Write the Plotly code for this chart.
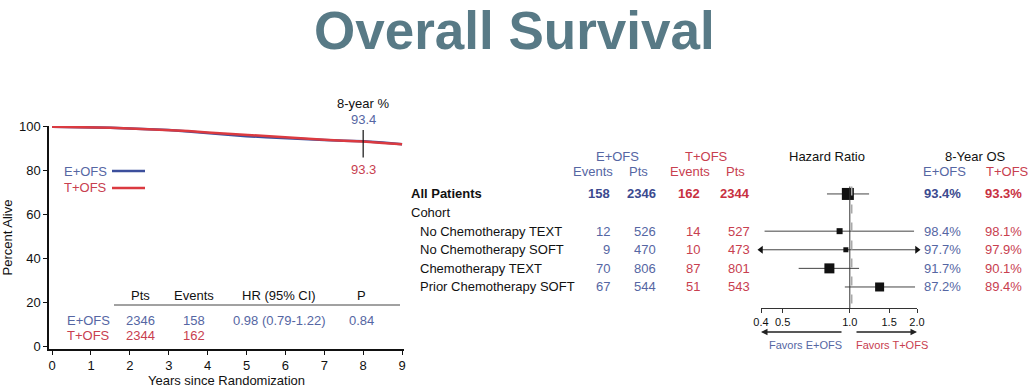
import plotly.graph_objects as go
import math

# ---------------- data ----------------
years = [0, 0.5, 1, 1.5, 2, 2.5, 3, 3.5, 4, 4.5, 5, 5.5, 6, 6.5, 7, 7.5, 8, 8.5, 9]
surv_e = [100, 99.9, 99.7, 99.5, 99.2, 98.9, 98.5, 97.8, 97.0, 96.3, 95.7, 95.2, 94.7, 94.3, 93.9, 93.6, 93.4, 92.8, 92.0]
surv_t = [100, 99.9, 99.7, 99.5, 99.2, 98.9, 98.6, 98.0, 97.4, 96.8, 96.2, 95.6, 95.0, 94.5, 94.0, 93.6, 93.3, 92.6, 92.0]
eight_year = {"E+OFS": "93.4", "T+OFS": "93.3"}

km_header = ["Pts", "Events", "HR (95% CI)", "P"]
km_rows = {"E+OFS": ["2346", "158", "0.98 (0.79-1.22)", "0.84"],
           "T+OFS": ["2344", "162", "", ""]}

groups = ["All Patients", "Cohort", "No Chemotherapy TEXT", "No Chemotherapy SOFT",
          "Chemotherapy TEXT", "Prior Chemotherapy SOFT"]
events_e = ["158", "", "12", "9", "70", "67"]
pts_e = ["2346", "", "526", "470", "806", "544"]
events_t = ["162", "", "14", "10", "87", "51"]
pts_t = ["2344", "", "527", "473", "801", "543"]
hr = [0.98, None, 0.90, 0.96, 0.81, 1.36]
ci_lo = [0.79, None, 0.415, 0.40, 0.59, 0.95]
ci_hi = [1.22, None, 1.94, 2.0, 1.10, 1.96]
os_e = ["93.4%", "", "98.4%", "97.7%", "91.7%", "87.2%"]
os_t = ["93.3%", "", "98.1%", "97.9%", "90.1%", "89.4%"]
hr_ticks = [0.4, 0.5, 1.0, 1.5, 2.0]
hr_ticktext = ["0.4", "0.5", "1.0", "1.5", "2.0"]

# ---------------- styles ----------------
W, H = 1034, 392
BLUE_LINE = "#3c4f9c"
RED_LINE = "#db3a40"
BLUE_TXT = "#5566a3"
BLUE_BOLD = "#3b4a8f"
RED_TXT = "#c8404f"
RED_BOLD = "#c8303f"
TITLE_C = "#587a86"
FONT = "Liberation Sans, Arial, sans-serif"
sq_sizes = [12, 0, 6, 5, 10, 9]


def px(x):
    return x / W


def py(y):
    return 1 - y / H


ann = []
shapes = []


def txt(x, y, text, color="#111111", size=13, xanchor="center", yref="paper"):
    ann.append(dict(x=px(x), y=(py(y) if yref == "paper" else y), xref="paper", yref=yref,
                    text=text, showarrow=False, xanchor=xanchor, yanchor="middle",
                    font=dict(size=size, color=color)))


fig = go.Figure()

# ---------------- KM curves ----------------
fig.add_trace(go.Scatter(x=years, y=surv_e, mode="lines", line=dict(color=BLUE_LINE, width=2.5),
                         xaxis="x", yaxis="y", showlegend=False, cliponaxis=False, hoverinfo="skip"))
fig.add_trace(go.Scatter(x=years, y=surv_t, mode="lines", line=dict(color=RED_LINE, width=2.5),
                         xaxis="x", yaxis="y", showlegend=False, cliponaxis=False, hoverinfo="skip"))

# ---------------- forest plot ----------------
for i, g in enumerate(groups):
    if hr[i] is None:
        continue
    fig.add_trace(go.Scatter(x=[ci_lo[i], ci_hi[i]], y=[i, i], mode="lines",
                             line=dict(color="#444444", width=1), xaxis="x2", yaxis="y2",
                             showlegend=False, hoverinfo="skip", cliponaxis=False))
    fig.add_trace(go.Scatter(x=[hr[i]], y=[i], mode="markers",
                             marker=dict(symbol="square", size=sq_sizes[i], color="#111111"),
                             xaxis="x2", yaxis="y2", showlegend=False, hoverinfo="skip", cliponaxis=False))
idx = groups.index("No Chemotherapy SOFT")
fig.add_trace(go.Scatter(x=[ci_lo[idx], ci_hi[idx]], y=[idx, idx], mode="markers",
                         marker=dict(symbol=["triangle-left", "triangle-right"], size=7, color="#111111"),
                         xaxis="x2", yaxis="y2", showlegend=False, hoverinfo="skip", cliponaxis=False))

# reference lines at HR=1
shapes.append(dict(type="line", xref="x2", yref="y2", x0=1.0, x1=1.0, y0=-0.4, y1=6.13,
                   line=dict(color="#333333", width=1)))
shapes.append(dict(type="line", xref="x2", yref="y2", x0=1.02, x1=1.02, y0=-0.4, y1=6.13,
                   line=dict(color="#aaaaaa", width=1.5, dash="dash")))

# 8-year marker
shapes.append(dict(type="line", xref="x", yref="y", x0=8, x1=8, y0=86, y1=98.5,
                   line=dict(color="#111111", width=1.2)))
txt(363, 103, "8-year %")
txt(363, 119, eight_year["E+OFS"], BLUE_TXT)
txt(363, 169, eight_year["T+OFS"], RED_TXT)

# legend
txt(109, 171, "E+OFS", BLUE_TXT, xanchor="right")
txt(109, 187, "T+OFS", RED_TXT, xanchor="right")
shapes.append(dict(type="line", xref="paper", yref="paper", x0=px(112), x1=px(145), y0=py(171), y1=py(171),
                   line=dict(color=BLUE_LINE, width=2.5)))
shapes.append(dict(type="line", xref="paper", yref="paper", x0=px(112), x1=px(145), y0=py(188), y1=py(188),
                   line=dict(color=RED_LINE, width=2.5)))

# KM table
col_x = [140, 194, 279, 361]
for cx, h in zip(col_x, km_header):
    txt(cx, 295, h)
shapes.append(dict(type="line", xref="paper", yref="paper", x0=px(114), x1=px(400), y0=py(305), y1=py(305),
                   line=dict(color="#444444", width=1)))
for name, yy, c in [("E+OFS", 320, BLUE_TXT), ("T+OFS", 335, RED_TXT)]:
    txt(88, yy, name, c)
    for cx, v in zip(col_x, km_rows[name]):
        if v:
            txt(cx, yy, v, c)

# forest table headers
hdr = [(617, 156, "E+OFS", BLUE_TXT), (593, 171, "Events", BLUE_TXT), (638, 171, "Pts", BLUE_TXT),
       (706, 156, "T+OFS", RED_TXT), (690, 171, "Events", RED_TXT), (735, 171, "Pts", RED_TXT),
       (827, 156, "Hazard Ratio", "#111111"), (975, 156, "8-Year OS", "#111111"),
       (944, 171, "E+OFS", BLUE_TXT), (1007, 171, "T+OFS", RED_TXT)]
for x, y, t, c in hdr:
    txt(x, y, t, c)

# forest table rows
for i, g in enumerate(groups):
    bold = i == 0
    lx = 409 if i <= 1 else 418
    txt(lx, i, f"<b>{g}</b>" if bold else g, xanchor="left", yref="y2")
    cols = [(612, events_e[i], BLUE_BOLD if bold else BLUE_TXT), (658, pts_e[i], BLUE_BOLD if bold else BLUE_TXT),
            (702, events_t[i], RED_BOLD if bold else RED_TXT), (752, pts_t[i], RED_BOLD if bold else RED_TXT),
            (963, os_e[i], BLUE_BOLD if bold else BLUE_TXT), (1024, os_t[i], RED_BOLD if bold else RED_TXT)]
    for x, v, c in cols:
        if v:
            txt(x, i, f"<b>{v}</b>" if bold else v, c, xanchor="right", yref="y2")

# favors arrows
ann.append(dict(x=px(761), y=py(332), xref="paper", yref="paper", ax=82, ay=0,
                text="", showarrow=True, arrowhead=2, arrowsize=1, arrowwidth=1.3, arrowcolor="#222222"))
ann.append(dict(x=px(917), y=py(332), xref="paper", yref="paper", ax=-62, ay=0,
                text="", showarrow=True, arrowhead=2, arrowsize=1, arrowwidth=1.3, arrowcolor="#222222"))
txt(805, 345, "Favors E+OFS", BLUE_TXT, size=11)
txt(892, 345, "Favors T+OFS", RED_TXT, size=11)

# title
txt(514, 30, "<b>Overall Survival</b>", TITLE_C, size=53)

fig.update_layout(
    width=W, height=H, margin=dict(l=0, r=0, t=0, b=0, pad=0, autoexpand=False),
    paper_bgcolor="white", plot_bgcolor="white",
    font=dict(family=FONT, size=13, color="#111111"),
    shapes=shapes, annotations=ann,
    xaxis=dict(domain=[px(49), px(404)], range=[-0.08, 9.05], tickvals=list(range(10)), automargin=False,
               showgrid=False, zeroline=False, showline=True, linecolor="#111111", linewidth=1.5,
               ticks="outside", ticklen=4, tickcolor="#111111", tickfont=dict(size=13),
               title=dict(text="Years since Randomization", font=dict(size=13), standoff=2)),
    yaxis=dict(domain=[py(349), py(126)], range=[-1, 100.3], tickvals=[0, 20, 40, 60, 80, 100], automargin=False,
               showgrid=False, zeroline=False, showline=True, linecolor="#111111", linewidth=1.5,
               ticks="outside", ticklen=4, tickcolor="#111111", tickfont=dict(size=13),
               title=dict(text="Percent Alive", font=dict(size=13), standoff=4)),
    xaxis2=dict(domain=[px(761), px(917)], type="log", range=[math.log10(0.4), math.log10(2.0)],
                tickvals=hr_ticks, ticktext=hr_ticktext, anchor="y2", automargin=False,
                showgrid=False, zeroline=False, showline=True, linecolor="#333333", linewidth=1,
                ticks="outside", ticklen=4, tickcolor="#333333", tickfont=dict(size=11)),
    yaxis2=dict(domain=[py(308), py(180)], range=[6.13, -0.75], anchor="x2", visible=False, automargin=False),
)

fig.write_html("out.html", config={"displayModeBar": False},
               post_script="document.body.style.margin='0px';document.body.style.overflow='hidden';")
